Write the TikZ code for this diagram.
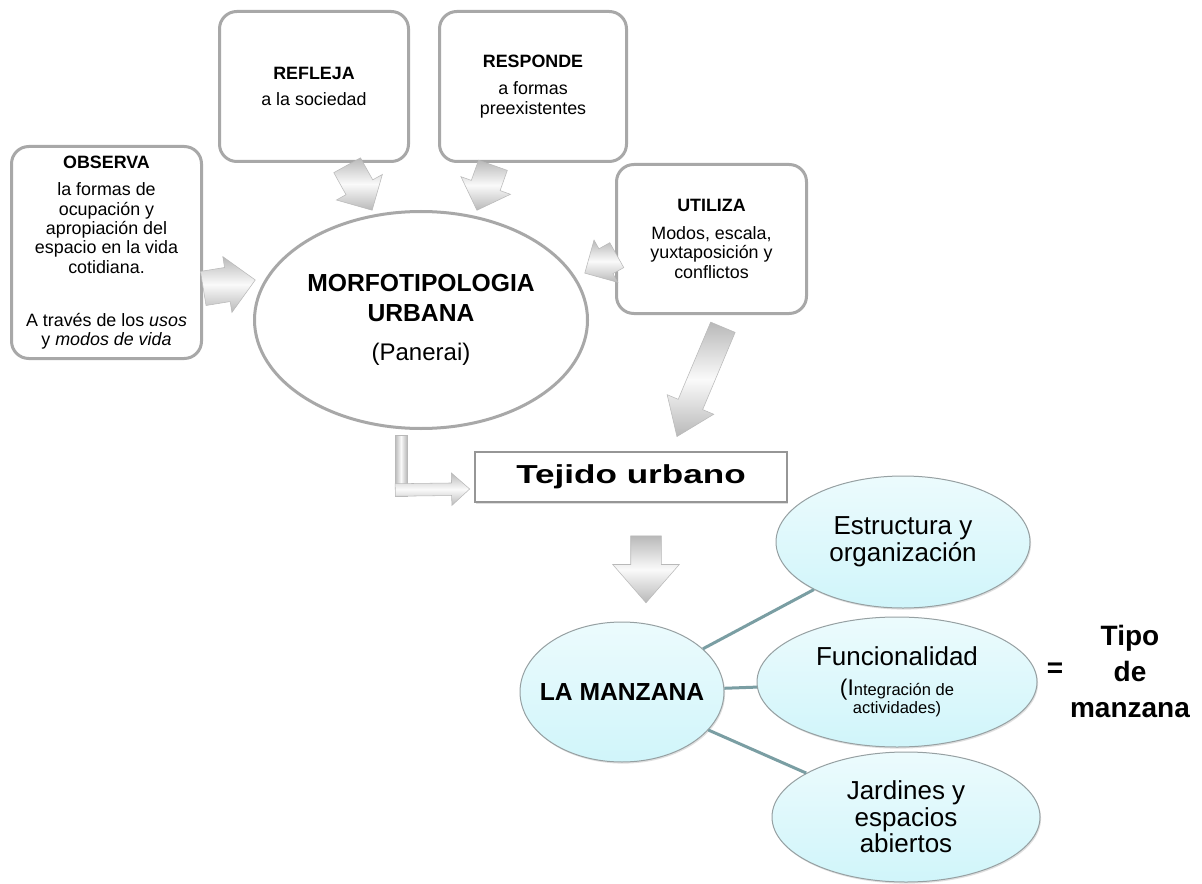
\documentclass[tikz,border=0pt]{standalone}
\usepackage{fontspec}
\usepackage{graphicx}
\setmainfont{Liberation Sans}
\newfontfamily\heavyfont{Liberation Sans Bold}
\usetikzlibrary{shapes.geometric,shapes.arrows,calc,shadows}

\definecolor{boxgray}{RGB}{168,168,168}
\definecolor{tejline}{RGB}{150,150,150}
\definecolor{ovalline}{RGB}{150,160,162}
\definecolor{ovaltop}{RGB}{236,251,253}
\definecolor{ovalbot}{RGB}{208,245,250}
\definecolor{linkcol}{RGB}{122,158,163}

% fat gray arrow from #3 to #4, named #2
\newcommand\blockarrow[4][]{%
  \path let \p1=($(#4)-(#3)$), \n1={veclen(\x1,\y1)}, \n2={atan2(\y1,\x1)} in
    node[fatarrow,name=#2,minimum height=\n1,rotate=\n2,#1] at (#3) {};}

\begin{document}
\begin{tikzpicture}[x=0.75pt,y=-0.75pt]
    \tikzstyle{box}=[rectangle,draw=boxgray,line width=2.25pt,rounded corners=13pt,fill=white,align=center,inner sep=0pt,font=\fontsize{13.4}{14.6}\selectfont]
    \tikzstyle{bigoval}=[ellipse,draw=boxgray,line width=2.25pt,fill=white,align=center,inner sep=0pt]
    \tikzstyle{oval}=[ellipse,draw=ovalline,line width=0.75pt,top color=ovaltop,bottom color=ovalbot,align=center,inner sep=0pt,font=\fontsize{19.5}{20}\selectfont,drop shadow={opacity=0.25,shadow xshift=0.8pt,shadow yshift=-1.2pt}]
    \tikzstyle{link}=[draw=linkcol,line width=2.25pt]
    \tikzstyle{fatarrow}=[single arrow,anchor=tail,inner xsep=0pt,minimum width=0pt,draw=gray!55,line width=0.4pt,top color=gray!55,bottom color=gray!55,middle color=gray!4]
    \tikzstyle{fatbar}=[draw=gray!55,line width=0.4pt,left color=gray!55,right color=gray!55,middle color=gray!4]
    \path[fill=white,use as bounding box] (0,0) rectangle (1202,884);

    \node[box,minimum width=142.5pt,minimum height=159pt] (observa) at (106.5,252.5) {\textbf{OBSERVA}\\[6pt] la formas de\\ ocupación y\\ apropiación del\\ espacio en la vida\\ cotidiana.\\[25pt] A través de los \textit{usos}\\ y \textit{modos de vida}};
    \node[box,minimum width=141.75pt,minimum height=112.5pt] (refleja) at (314,86.5) {\textbf{REFLEJA}\\[5pt] a la sociedad};
    \node[box,minimum width=140.25pt,minimum height=112.5pt] (responde) at (533,86.5) {\textbf{RESPONDE}\\[6pt] a formas\\ preexistentes};
    \node[box,minimum width=142.5pt,minimum height=111.75pt] (utiliza) at (711.5,239) {\textbf{UTILIZA}\\[6pt] Modos, escala,\\ yuxtaposición y\\ conflictos};
    \node[bigoval,minimum width=249.75pt,minimum height=162.75pt,font=\heavyfont\fontsize{18.5}{22.5}\selectfont] (morfo) at (421,320) {MORFOTIPOLOGIA\\ URBANA\\[7pt] {\normalfont\fontsize{18}{22.5}\selectfont (Panerai)}};
    \node[draw=tejline,line width=0.9pt,fill=white,minimum width=234pt,minimum height=37.5pt,inner sep=0pt,drop shadow={opacity=0.25,shadow xshift=1pt,shadow yshift=-1.2pt},font=\fontsize{19.5}{20}\selectfont\bfseries] (tejido) at (631,477) {\scalebox{1.35}[1]{Tejido urbano}};

    \node[oval,minimum width=153pt,minimum height=105pt,font=\heavyfont\fontsize{18.5}{20}\selectfont] (manzana) at (622,692) {\makebox[0pt]{LA MANZANA}};
    \node[oval,minimum width=190.5pt,minimum height=99pt] (estructura) at (903,542) {Estructura y\\ organización};
    \node[oval,minimum width=210pt,minimum height=97.5pt,font=\fontsize{12.4}{13.5}\selectfont] (funcional) at (897,682) {{\fontsize{19.5}{20}\selectfont Funcionalidad}\\[9pt] \smash{\fontsize{17}{17}\selectfont(I}ntegración de\\ actividades)};
    \node[oval,minimum width=201pt,minimum height=97.5pt] (jardines) at (906,817) {Jardines y\\ espacios\\ abiertos};
    \node[font=\heavyfont\fontsize{21}{21}\selectfont] (igual) at (1055,670) {=};
    \node[align=center,font=\heavyfont\fontsize{21}{27}\selectfont] (tipo) at (1130,671) {Tipo\\ de\\ manzana};

    \draw[link] (manzana) -- (estructura);
    \draw[link] (manzana) -- (funcional);
    \draw[link] (manzana) -- (jardines);

    \coordinate (refS) at ($(refleja.south)+(33,2)$);
    \coordinate (refE) at ($(morfo.north)+(-49,0)$);
    \coordinate (resS) at ($(responde.south)+(-40,2)$);
    \coordinate (resE) at ($(morfo.north)+(56,0)$);
    \coordinate (obsS) at ($(observa.east)+(0,36)$);
    \coordinate (obsE) at ($(morfo.west)+(2,-40)$);
    \coordinate (utiS) at ($(utiliza.west)+(2,16)$);
    \coordinate (utiE) at ($(morfo.east)+(-4,-47)$);
    \coordinate (tejS) at ($(utiliza.south)+(11.5,12)$);
    \coordinate (tejE) at ($(tejido.north)+(46,-15)$);
    \coordinate (manS) at ($(tejido.south)+(15,33)$);
    \coordinate (manE) at ($(manzana.north)+(24,-19)$);
    \coordinate (lTop) at ($(morfo.south)+(-26,5)$);
    \coordinate (lCorner) at ($(lTop)+(0,55)$);
    \coordinate (lEnd) at ($(tejido.west)+(-5,12)$);

    \blockarrow[inner ysep=11.25pt,single arrow head extend=8.25pt]{arRef}{refS}{refE}
    \blockarrow[inner ysep=11.25pt,single arrow head extend=8.25pt]{arRes}{resS}{resE}
    \blockarrow[inner ysep=12.75pt,single arrow head extend=8.25pt]{arObs}{obsS}{obsE}
    \blockarrow[inner ysep=10.5pt,single arrow head extend=7.5pt]{arUti}{utiS}{utiE}
    \blockarrow[inner ysep=9.75pt,single arrow head extend=9pt,single arrow tip angle=72]{arTej}{tejS}{tejE}
    \blockarrow[inner ysep=11.25pt,single arrow head extend=13.5pt,single arrow tip angle=82]{arMan}{manS}{manE}
    \path[fatbar] (lTop) rectangle ($(lCorner)+(12,6)$);
    \blockarrow[inner ysep=4.5pt,single arrow head extend=7.5pt,single arrow tip angle=84]{arL}{lCorner}{lEnd}
\end{tikzpicture}
\end{document}
